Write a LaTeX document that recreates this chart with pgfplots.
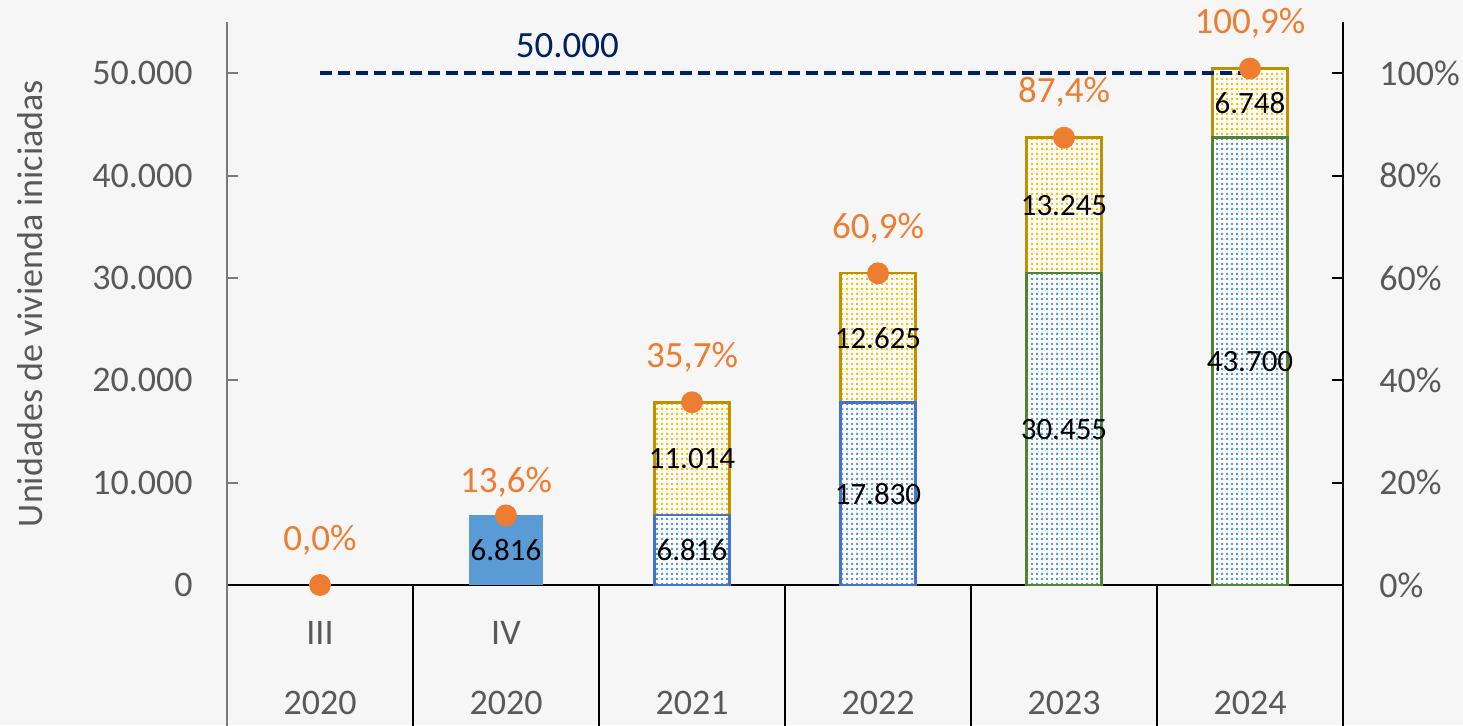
\documentclass[border=0pt]{standalone}
\usepackage{fontspec}
\setmainfont{Carlito}
\usepackage{pgfplots}
\pgfplotsset{compat=1.18}
\usetikzlibrary{patterns}
\definecolor{txtgray}{HTML}{595959}
\definecolor{orng}{HTML}{ED7D31}
\definecolor{solidblue}{HTML}{5B9BD5}
\definecolor{dotblue}{HTML}{5B9BD5}
\definecolor{bordblue}{HTML}{4472C4}
\definecolor{bordgreen}{HTML}{548235}
\definecolor{dotyellow}{HTML}{FFC000}
\definecolor{bordgold}{HTML}{BF9000}
\definecolor{navy}{HTML}{002060}
\definecolor{bg}{HTML}{F6F6F6}
\pgfdeclarepatternformonly{mydots}{\pgfqpoint{0pt}{0pt}}{\pgfqpoint{2.5pt}{2.5pt}}{\pgfqpoint{2.5pt}{2.5pt}}{%
  \pgfpathrectangle{\pgfqpoint{0.6pt}{0.6pt}}{\pgfqpoint{1.3pt}{1.3pt}}\pgfusepath{fill}}
\newcommand{\fA}{\fontsize{18}{21.6}\selectfont}
\newcommand{\fB}{\fontsize{15.5}{18}\selectfont}
\newcommand{\fC}{\fontsize{18.5}{22}\selectfont}
\pgfplotsset{
  base/.style={scale only axis, width=558pt, height=281.5pt,
    xmin=-0.5, xmax=5.5, ymin=0, ymax=55000, clip=false},
  /pgf/number format/assume math mode=true,
}
\begin{document}
\begin{tikzpicture}
\fill[bg] (-113.5pt,-70pt) rectangle (618pt,292.5pt);
% main axis
\begin{axis}[base,
  axis x line*=bottom, axis y line*=left,
  x axis line style={black, line width=1pt, -},
  y axis line style={txtgray!80, line width=1pt, -},
  xtick={0,...,5},
  xticklabels={{III\\2020},{IV\\2020},{\vphantom{I}\\2021},{\vphantom{I}\\2022},{\vphantom{I}\\2023},{\vphantom{I}\\2024}},
  xticklabel style={font=\fontsize{18}{35}\selectfont, align=center, text=txtgray, anchor=north, inner sep=0pt, yshift=-18pt},
  x tick style={draw=none},
  ytick={0,10000,...,50000},
  scaled y ticks=false,
  /pgf/number format/1000 sep={.},
  yticklabel style={font=\fA, text=txtgray, inner sep=0pt, xshift=-17pt},
  y tick style={txtgray!80, line width=1pt},
  tick align=inside, major tick length=5.5pt,
  ylabel={Unidades de vivienda iniciadas},
  every axis y label/.style={at={(axis description cs:0,0.5)}, xshift=-98.5pt, rotate=90, anchor=center, font=\fA, text=txtgray},
]
\addplot[ybar, bar width=0.403, bar shift=0pt, fill=solidblue, draw=none] coordinates {(1,6816)};
\draw[txtgray!80, line width=1pt] (axis cs:-0.5,0) -- ([yshift=-72pt]axis cs:-0.5,0);
\draw[black, line width=1pt] (axis cs:0.5,0) -- ([yshift=-72pt]axis cs:0.5,0);
\draw[black, line width=1pt] (axis cs:1.5,0) -- ([yshift=-72pt]axis cs:1.5,0);
\draw[black, line width=1pt] (axis cs:2.5,0) -- ([yshift=-72pt]axis cs:2.5,0);
\draw[black, line width=1pt] (axis cs:3.5,0) -- ([yshift=-72pt]axis cs:3.5,0);
\draw[black, line width=1pt] (axis cs:4.5,0) -- ([yshift=-72pt]axis cs:4.5,0);
\draw[black, line width=1pt] (axis cs:5.5,0) -- ([yshift=-72pt]axis cs:5.5,0);
\end{axis}
% stack 2021-2022
\begin{axis}[base, hide axis, ybar stacked, bar width=0.403]
\addplot[fill=white, draw=bordblue, line width=1.2pt, postaction={pattern=mydots, pattern color=dotblue}] coordinates {(2,6816) (3,17830)};
\addplot[fill=white, draw=bordgold, line width=1.2pt, postaction={pattern=mydots, pattern color=dotyellow}] coordinates {(2,11014) (3,12625)};
\end{axis}
% stack 2023-2024
\begin{axis}[base, hide axis, ybar stacked, bar width=0.403]
\addplot[fill=white, draw=bordgreen, line width=1.2pt, postaction={pattern=mydots, pattern color=dotblue}] coordinates {(4,30455) (5,43700)};
\addplot[fill=white, draw=bordgold, line width=1.2pt, postaction={pattern=mydots, pattern color=dotyellow}] coordinates {(4,13245) (5,6748)};
\end{axis}
% labels and target line
\begin{axis}[base, hide axis]
\addplot[navy, line width=1.8pt, dash pattern=on 6pt off 3pt] coordinates {(0,50000) (5,50000)};
\addplot[only marks, mark=none, nodes near coords, point meta=explicit symbolic,
  every node near coord/.append style={anchor=center, font=\fB, text=black}]
  table[meta=label] {
x y label
1 3408 6.816
2 3408 6.816
2 12323 11.014
3 8915 17.830
3 24142.5 12.625
4 15227.5 30.455
4 37077.5 13.245
5 21850 43.700
5 47074 6.748
};
\node[text=navy, font=\fC] at (axis cs:1.33,52700) {50.000};
\end{axis}
% percentage axis
\begin{axis}[base, ymax=110,
  axis y line*=right, axis x line=none,
  y axis line style={black, line width=1pt, -},
  ytick={0,20,...,100},
  yticklabel={\pgfmathprintnumber{\tick}\%},
  yticklabel style={font=\fA, text=txtgray, inner sep=0pt, xshift=18pt, anchor=west},
  y tick style={black, line width=1pt},
  tick align=inside, major tick length=5.5pt,
]
\addplot[only marks, mark=*, mark size=5.25pt, color=orng,
  nodes near coords={\pgfmathprintnumber[fixed, fixed zerofill, precision=1, use comma]{\pgfplotspointmeta}\%},
  every node near coord/.append style={anchor=center, yshift=22.5pt, font=\fC, text=orng}]
  coordinates {(0,0) (2,35.7) (3,60.9) (4,87.4) (5,100.9)};
\addplot[only marks, mark=*, mark size=5.25pt, color=orng,
  nodes near coords={\pgfmathprintnumber[fixed, fixed zerofill, precision=1, use comma]{\pgfplotspointmeta}\%},
  every node near coord/.append style={anchor=center, yshift=16.5pt, font=\fC, text=orng}]
  coordinates {(1,13.6)};
\end{axis}
\draw[black, line width=1pt] (558pt,281.5pt) -- (558pt,-72pt);
\pgfresetboundingbox
\path (-113.5pt,-70pt) rectangle (618pt,292.5pt);
\end{tikzpicture}
\end{document}
